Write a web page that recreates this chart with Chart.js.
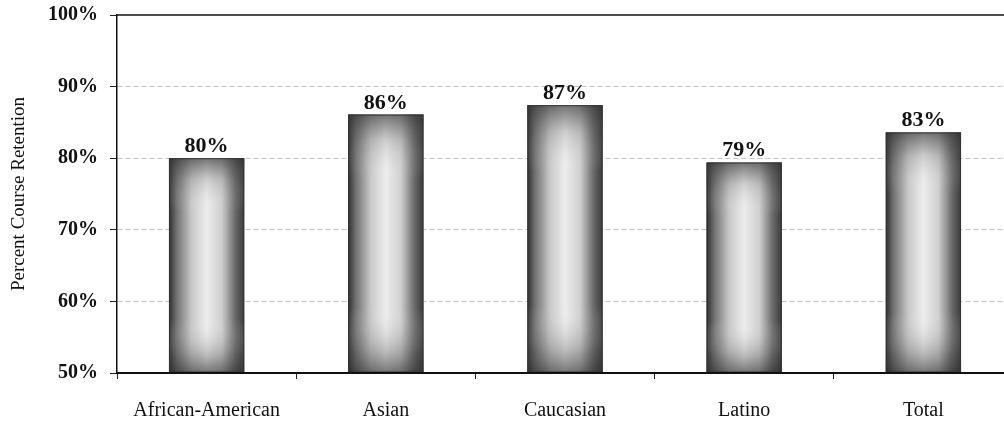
<!DOCTYPE html>
<html>
<head>
<meta charset="utf-8">
<script src="https://cdn.jsdelivr.net/npm/chart.js@4/dist/chart.umd.min.js"></script>
<style>
  html, body { margin: 0; padding: 0; background: #fff; overflow: hidden; }
  #wrap { width: 1013px; height: 422px; position: relative; }
</style>
</head>
<body>
<div id="wrap"><canvas id="retentionChart"></canvas></div>
<script>
// --- data ---
const groups = ["African-American", "Asian", "Caucasian", "Latino", "Total"];
const retention = [80.0, 86.1, 87.4, 79.4, 83.6];
const retentionLabels = ["80%", "86%", "87%", "79%", "83%"];
const yTicks = [50, 60, 70, 80, 90, 100];

const serif = "'Liberation Serif', 'Times New Roman', serif";

// --- shaded bars + value labels ---
const barShade = {
  id: "barShade",
  afterDatasetsDraw(chart) {
    const ctx = chart.ctx;
    const area = chart.chartArea;
    const meta = chart.getDatasetMeta(0);
    meta.data.forEach((bar, i) => {
      const p = bar.getProps(["x", "y", "base", "width"], true);
      const left = p.x - p.width / 2;
      const right = p.x + p.width / 2;
      const top = p.y;
      const bottom = Math.min(p.base, area.bottom);

      ctx.save();
      // horizontal shading: dark edges, light middle
      const gh = ctx.createLinearGradient(left, 0, right, 0);
      gh.addColorStop(0, "#2e2e2e");
      gh.addColorStop(0.1, "#707070");
      gh.addColorStop(0.3, "#c8c8c8");
      gh.addColorStop(0.5, "#ededed");
      gh.addColorStop(0.7, "#cfcfcf");
      gh.addColorStop(0.88, "#6a6a6a");
      gh.addColorStop(1, "#3a3a3a");
      ctx.fillStyle = gh;
      ctx.fillRect(left, top, p.width, bottom - top);

      // vertical shading: darker near top and bottom
      const gv = ctx.createLinearGradient(0, top, 0, bottom);
      gv.addColorStop(0, "rgba(50,50,50,0.65)");
      gv.addColorStop(0.1, "rgba(80,80,80,0.2)");
      gv.addColorStop(0.25, "rgba(255,255,255,0)");
      gv.addColorStop(0.75, "rgba(255,255,255,0)");
      gv.addColorStop(0.92, "rgba(70,70,70,0.3)");
      gv.addColorStop(1, "rgba(40,40,40,0.6)");
      ctx.fillStyle = gv;
      ctx.fillRect(left, top, p.width, bottom - top);

      ctx.strokeStyle = "#333";
      ctx.lineWidth = 1;
      ctx.strokeRect(left + 0.5, top + 0.5, p.width - 1, bottom - top - 1);

      // value label
      ctx.fillStyle = "#111";
      ctx.font = "bold 22px " + serif;
      ctx.textAlign = "center";
      ctx.textBaseline = "alphabetic";
      ctx.fillText(retentionLabels[i], p.x, top - 6);
      ctx.restore();
    });
  }
};

// --- top frame line at 100% and redrawn x axis line ---
const frameLines = {
  id: "frameLines",
  afterDraw(chart) {
    const ctx = chart.ctx;
    const area = chart.chartArea;
    const y = chart.scales.y.getPixelForValue(100);
    ctx.save();
    ctx.strokeStyle = "#111";
    ctx.lineWidth = 1.5;
    ctx.beginPath();
    ctx.moveTo(area.left, y);
    ctx.lineTo(area.right, y);
    ctx.stroke();
    ctx.lineWidth = 2;
    ctx.beginPath();
    ctx.moveTo(area.left, area.bottom);
    ctx.lineTo(area.right, area.bottom);
    ctx.stroke();
    ctx.restore();
  }
};

new Chart(document.getElementById("retentionChart"), {
  type: "bar",
  data: {
    labels: groups,
    datasets: [{
      data: retention,
      base: 50,
      backgroundColor: "#d8d8d8",
      borderWidth: 0,
      categoryPercentage: 1,
      barPercentage: 0.42
    }]
  },
  options: {
    responsive: true,
    maintainAspectRatio: false,
    animation: false,
    layout: { padding: { top: 15, left: 0, right: 0, bottom: 0 } },
    plugins: {
      legend: { display: false },
      tooltip: { enabled: false }
    },
    scales: {
      x: {
        afterFit: s => { s.height = 49; s.paddingLeft = 0; s.paddingRight = 0; },
        grid: {
          display: true,
          offset: true,
          drawOnChartArea: false,
          drawTicks: true,
          tickLength: 6,
          tickColor: "#222"
        },
        border: { display: true, color: "#111", width: 2 },
        ticks: {
          color: "#111",
          padding: 20,
          maxRotation: 0,
          autoSkip: false,
          font: { family: serif, size: 20 }
        }
      },
      y: {
        min: 50,
        max: 100,
        afterFit: s => { s.width = 117; s.paddingTop = 0; s.paddingBottom = 0; },
        afterBuildTicks: s => { s.ticks = yTicks.map(v => ({ value: v })); },
        grid: {
          color: ctx => (ctx.tick && ctx.tick.value === 100) ? "rgba(0,0,0,0)" : "#c4c4c4",
          lineWidth: 1,
          tickColor: "#222",
          tickLength: 7
        },
        border: { display: true, color: "#111", width: 1.5, dash: [5, 3] },
        ticks: {
          color: "#111",
          padding: 12,
          font: { family: serif, size: 20, weight: "bold" },
          callback: v => v + "%"
        },
        title: {
          display: true,
          text: "Percent Course Retention",
          color: "#111",
          padding: { top: 8, bottom: 0 },
          font: { family: serif, size: 19 }
        }
      }
    }
  },
  plugins: [barShade, frameLines]
});
</script>
</body>
</html>
